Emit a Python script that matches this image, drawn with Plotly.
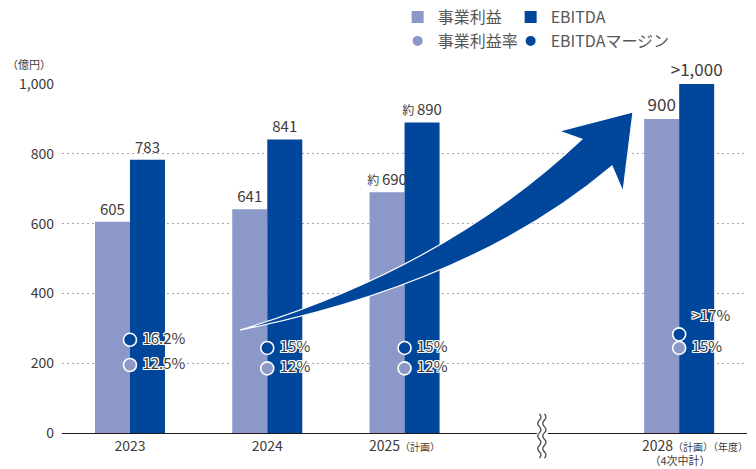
import plotly.graph_objects as go

# ---- data ----
years = ["2023", "2024", "2025", "2028"]
x_pos = [0, 1, 2, 4]                      # gap at 3 marks the axis break
operating_profit = [605, 641, 690, 900]   # 事業利益 (億円)
ebitda = [783, 841, 890, 1000]            # EBITDA (億円)
op_prefix = ["", "", "約", ""]
ebitda_prefix = ["", "", "約", ">"]
op_margin = [12.5, 12, 12, 15]            # 事業利益率 (%)
ebitda_margin = [16.2, 15, 15, 17]        # EBITDAマージン (%)
op_margin_prefix = ["", "", "", ""]
ebitda_margin_prefix = ["", "", "", ">"]
tick_text = [
    "2023",
    "2024",
    "2025<span style='font-size:10px'>（計画）</span>",
    "",   # last category is labelled together with the axis unit below
]
last_label = ("<span style='font-size:14px'>2028</span>"
              "<span style='font-size:10px'>（計画）（年度）</span>"
              "<br>&nbsp;&nbsp;&nbsp;（4次中計）")
y_ticks = [0, 200, 400, 600, 800, 1000]

LIGHT = "#8b98c8"
DARK = "#00469b"
TEXT = "#3e3a39"
FONT = "Noto Sans CJK JP"
BAR_W = 0.255


def value_label(prefix, v):
    if prefix == "約":
        return f"<span style='font-size:12px'>約 </span>{v:,}"
    return f"{prefix}{v:,}"


def pct_label(prefix, v):
    return f" {prefix}{v:g}%"


label_sizes = [15, 15, 15, 17]
halo = ("1px 1px 0 white, -1px -1px 0 white, 1px -1px 0 white, -1px 1px 0 white, "
        "0 1px 0 white, 0 -1px 0 white, 1px 0 0 white, -1px 0 0 white")

fig = go.Figure()

fig.add_trace(go.Bar(
    x=x_pos, y=operating_profit, width=BAR_W, offset=-BAR_W,
    name="事業利益", marker=dict(color=LIGHT, line=dict(width=0)),
    text=[value_label(p, v) for p, v in zip(op_prefix, operating_profit)],
    textposition="outside", cliponaxis=False, constraintext="none",
    textfont=dict(family=FONT, size=label_sizes, color=TEXT),
    legend="legend",
))
fig.add_trace(go.Bar(
    x=x_pos, y=ebitda, width=BAR_W, offset=0,
    name="EBITDA", marker=dict(color=DARK, line=dict(width=0)),
    text=[value_label(p, v) for p, v in zip(ebitda_prefix, ebitda)],
    textposition="outside", cliponaxis=False, constraintext="none",
    textfont=dict(family=FONT, size=label_sizes, color=TEXT),
    legend="legend",
))

fig.add_trace(go.Scatter(
    x=x_pos, y=op_margin, yaxis="y2", mode="markers+text",
    name="事業利益率",
    marker=dict(symbol="circle", size=13, color=LIGHT, line=dict(color="white", width=1.6)),
    text=[pct_label(p, v) for p, v in zip(op_margin_prefix, op_margin)],
    textposition="middle right", cliponaxis=False,
    textfont=dict(family=FONT, size=15, color=TEXT, shadow=halo),
    legend="legend2",
))
fig.add_trace(go.Scatter(
    x=x_pos, y=ebitda_margin, yaxis="y2", mode="markers+text",
    name="EBITDAマージン", legendwidth=140,
    marker=dict(symbol="circle", size=13, color=DARK, line=dict(color="white", width=1.6)),
    text=[pct_label(p, v) for p, v in zip(ebitda_margin_prefix, ebitda_margin)],
    textposition=["middle right", "middle right", "middle right", "top right"],
    cliponaxis=False,
    textfont=dict(family=FONT, size=15, color=TEXT, shadow=halo),
    legend="legend2",
))

shapes = []

# growth arrow, 2024 towards the 2028 target
arrow_path = (
    "M 0.801,295 "
    "Q 2.301,473 3.292,842 "
    "L 3.125,865 L 3.664,920 L 3.591,691 L 3.511,765 "
    "Q 2.505,430 0.801,295 Z"
)
shapes.append(dict(type="path", xref="x", yref="y", path=arrow_path,
                   fillcolor=DARK, line=dict(color="white", width=1.2), layer="above"))

# axis break between 2025 and 2028
shapes.append(dict(type="rect", xref="x", yref="paper", xsizemode="pixel", ysizemode="pixel",
                   xanchor=3.0, yanchor=0, x0=-5, x1=6, y0=-3, y1=3,
                   fillcolor="white", line=dict(width=0), layer="above"))


def wave(dx):
    segs = [f"M {dx},19"]
    y = 19
    side = 1
    while y > -19:
        segs.append(f"Q {dx + 3.2 * side},{y - 3.15:.2f} {dx},{y - 6.3:.2f}")
        y -= 6.3
        side = -side
    return " ".join(segs)


for dx in (-2.5, 2.5):
    shapes.append(dict(type="path", xref="x", yref="paper", xsizemode="pixel", ysizemode="pixel",
                       xanchor=3.0, yanchor=0, path=wave(dx),
                       line=dict(color="#4a4646", width=1.3), layer="above"))

fig.update_layout(
    width=756, height=469,
    margin=dict(l=62, r=9, t=84, b=36),
    paper_bgcolor="white", plot_bgcolor="white",
    barmode="overlay",
    font=dict(family=FONT, color=TEXT, size=13),
    shapes=shapes,
    xaxis=dict(
        range=[-0.495, 4.494], tickmode="array", tickvals=x_pos, ticktext=tick_text,
        showgrid=False, zeroline=False, showline=True, linecolor="#231815", linewidth=1.4,
        ticks="", tickfont=dict(family=FONT, size=14, color=TEXT), automargin=False,
    ),
    yaxis=dict(
        range=[0, 1000], tickmode="array", tickvals=y_ticks, tickformat=",",
        showgrid=True, gridcolor="#a7a7a7", griddash="2px,3px", gridwidth=1,
        zeroline=False, showline=False, ticks="", ticklabelstandoff=7,
        tickfont=dict(family=FONT, size=14, color=TEXT), automargin=False,
    ),
    yaxis2=dict(range=[2.5, 53.8], overlaying="y", visible=False),
    legend=dict(
        orientation="h", xref="paper", yref="container", x=0.49, y=1 - 17 / 469,
        xanchor="left", yanchor="middle", entrywidth=68, entrywidthmode="pixels",
        font=dict(family=FONT, size=16, color="#595757"), bgcolor="rgba(0,0,0,0)",
        itemclick=False, traceorder="normal",
    ),
    legend2=dict(
        orientation="h", xref="paper", yref="container", x=0.49, y=1 - 41 / 469,
        xanchor="left", yanchor="middle", entrywidth=68, entrywidthmode="pixels",
        font=dict(family=FONT, size=16, color="#595757"), bgcolor="rgba(0,0,0,0)",
        itemsizing="constant", itemclick=False, traceorder="normal",
    ),
    annotations=[
        dict(text="（億円）", xref="paper", yref="paper", x=-0.048, y=1.057,
             xanchor="center", yanchor="middle", showarrow=False,
             font=dict(family=FONT, size=11, color=TEXT)),
        dict(text=last_label, xref="x", yref="paper", x=x_pos[-1], xshift=-38,
             y=-0.003, xanchor="left", yanchor="top", align="left", showarrow=False,
             borderpad=0, font=dict(family=FONT, size=11, color=TEXT)),
    ],
)

fig.write_html("out.html")
